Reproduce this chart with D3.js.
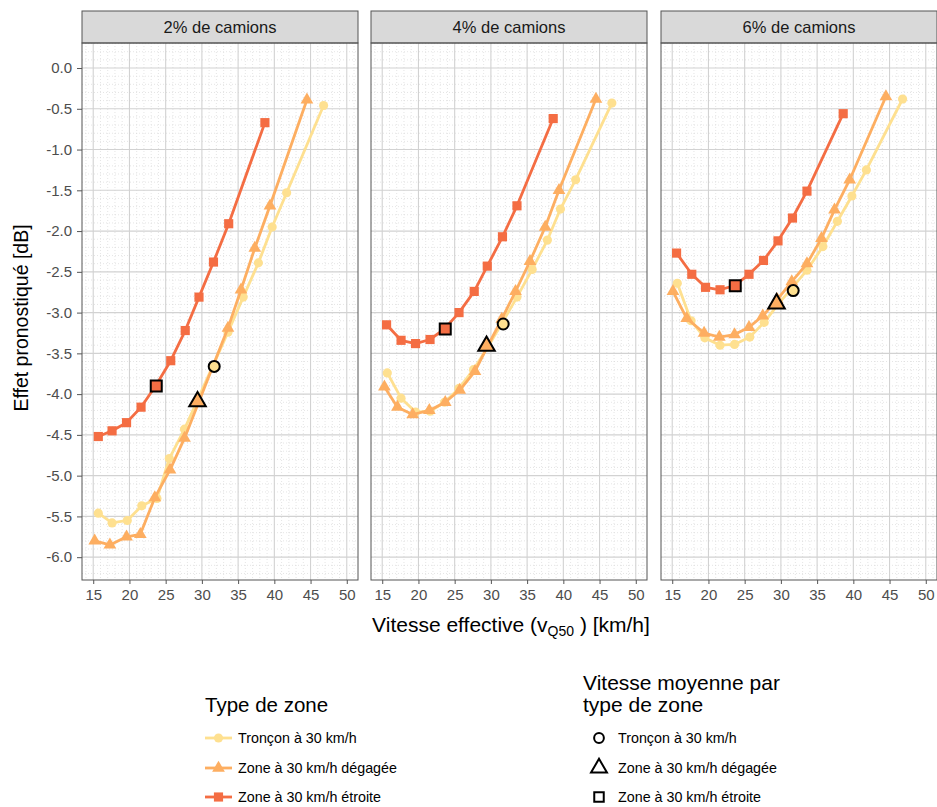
<!DOCTYPE html>
<html><head><meta charset="utf-8">
<script src="https://cdn.jsdelivr.net/npm/d3@7"></script>
<style>body{margin:0;background:#fff}svg{display:block;font-family:"Liberation Sans",Arial,sans-serif}</style>
</head><body><svg id="c" width="937" height="807"></svg>
<script>
const panelTitles = ["2% de camions","4% de camions","6% de camions"];
const zones = ["Tronçon à 30 km/h","Zone à 30 km/h dégagée","Zone à 30 km/h étroite"];
const colors = ["#FEE090","#FDAE61","#F46D43"];
const xTicks = [15,20,25,30,35,40,45,50];
const yTicks = [0,-0.5,-1,-1.5,-2,-2.5,-3,-3.5,-4,-4.5,-5,-5.5,-6];

// 2% de camions
const tron2X = [15.7,17.6,19.7,21.7,23.8,25.5,27.6,33.6,35.7,37.8,39.7,41.7,46.8];
const tron2Y = [-5.46,-5.58,-5.55,-5.37,-5.28,-4.79,-4.43,-3.24,-2.81,-2.39,-1.95,-1.53,-0.46];
const deg2X = [15.2,17.3,19.6,21.5,23.5,25.6,27.6,33.6,35.4,37.3,39.4,44.5];
const deg2Y = [-5.80,-5.85,-5.75,-5.72,-5.27,-4.93,-4.54,-3.19,-2.72,-2.21,-1.69,-0.39];
const etr2X = [15.7,17.6,19.6,21.6,23.6,25.7,27.7,29.6,31.6,33.7,38.7];
const etr2Y = [-4.52,-4.45,-4.35,-4.16,-3.90,-3.59,-3.22,-2.81,-2.38,-1.91,-0.67];
// 4% de camions
const tron4X = [15.7,17.6,19.6,21.6,23.6,25.6,27.6,29.6,31.6,33.6,35.7,37.8,39.6,41.7,46.7];
const tron4Y = [-3.74,-4.05,-4.22,-4.21,-4.10,-3.93,-3.70,-3.42,-3.12,-2.81,-2.47,-2.11,-1.73,-1.37,-0.43];
const deg4X = [15.3,17.1,19.2,21.5,23.7,25.7,27.8,29.5,31.5,33.4,35.4,37.5,39.4,44.5];
const deg4Y = [-3.91,-4.16,-4.25,-4.20,-4.10,-3.95,-3.72,-3.42,-3.08,-2.74,-2.37,-1.95,-1.50,-0.38];
const etr4X = [15.6,17.6,19.6,21.6,23.6,25.6,27.7,29.5,31.6,33.6,38.6];
const etr4Y = [-3.15,-3.34,-3.38,-3.33,-3.20,-3.00,-2.74,-2.43,-2.07,-1.69,-0.62];
// 6% de camions
const tron6X = [15.7,17.6,19.5,21.6,23.6,25.7,27.7,29.6,31.6,33.6,35.8,37.8,39.8,41.8,46.8];
const tron6Y = [-2.64,-3.10,-3.31,-3.40,-3.39,-3.30,-3.12,-2.90,-2.69,-2.48,-2.19,-1.88,-1.57,-1.25,-0.38];
const deg6X = [15.1,17.0,19.4,21.5,23.6,25.6,27.5,29.5,31.5,33.6,35.6,37.4,39.5,44.5];
const deg6Y = [-2.74,-3.07,-3.25,-3.30,-3.27,-3.18,-3.04,-2.84,-2.62,-2.40,-2.09,-1.74,-1.37,-0.35];
const etr6X = [15.6,17.7,19.6,21.6,23.6,25.6,27.6,29.6,31.6,33.6,38.6];
const etr6Y = [-2.27,-2.53,-2.69,-2.72,-2.67,-2.53,-2.36,-2.12,-1.84,-1.51,-0.56];
// vitesse moyenne par type de zone (tronçon, dégagée, étroite)
const avgX = [31.7,29.4,23.7];
const avg2Y = [-3.66,-4.09,-3.90];
const avg4Y = [-3.14,-3.41,-3.20];
const avg6Y = [-2.73,-2.89,-2.67];

const panelData = [
  {series:[[tron2X,tron2Y],[deg2X,deg2Y],[etr2X,etr2Y]], avg:avg2Y},
  {series:[[tron4X,tron4Y],[deg4X,deg4Y],[etr4X,etr4Y]], avg:avg4Y},
  {series:[[tron6X,tron6Y],[deg6X,deg6Y],[etr6X,etr6Y]], avg:avg6Y}
];

const svg = d3.select("#c");
const panelX0 = [82,371,661], panelW = 276, pTop = 43, pBottom = 580;
const stripTop = 11;
const y = d3.scaleLinear().domain([0.307,-6.28]).range([pTop,pBottom]);
const shapes = [d3.symbolCircle, d3.symbolTriangle, d3.symbolSquare];
const seriesSize = [66, 70, 84];
const avgSize = [95, 118, 121];
const FONT = "Liberation Sans, Arial, sans-serif";
const fmtY = v => d3.format(".1f")(v).replace("\u2212","-");

panelData.forEach((pd,i) => {
  const x0 = panelX0[i];
  const x = d3.scaleLinear().domain([13.45,51.55]).range([x0,x0+panelW]);
  const g = svg.append("g");
  g.append("rect").attr("x",x0).attr("y",pTop).attr("width",panelW).attr("height",pBottom-pTop).attr("fill","#fff");
  const minorX = d3.range(14,52,1).filter(v=>v%5!==0);
  const minorY = d3.range(3,-63,-1).map(v=>v/10).filter(v=>Math.abs(Math.round(v*10))%5!==0);
  g.selectAll(".mx").data(minorX).join("line").attr("x1",d=>x(d)).attr("x2",d=>x(d)).attr("y1",pTop).attr("y2",pBottom)
    .attr("stroke","#d4d4d4").attr("stroke-width",0.6).attr("stroke-dasharray","1,2");
  g.selectAll(".my").data(minorY).join("line").attr("y1",d=>y(d)).attr("y2",d=>y(d)).attr("x1",x0).attr("x2",x0+panelW)
    .attr("stroke","#d4d4d4").attr("stroke-width",0.6).attr("stroke-dasharray","1,2");
  g.selectAll(".gx").data(xTicks).join("line").attr("x1",d=>x(d)).attr("x2",d=>x(d)).attr("y1",pTop).attr("y2",pBottom)
    .attr("stroke","#d2d2d2").attr("stroke-width",1.1);
  g.selectAll(".gy").data(yTicks).join("line").attr("y1",d=>y(d)).attr("y2",d=>y(d)).attr("x1",x0).attr("x2",x0+panelW)
    .attr("stroke","#d2d2d2").attr("stroke-width",1.1);
  g.append("rect").attr("x",x0).attr("y",stripTop).attr("width",panelW).attr("height",pTop-stripTop)
    .attr("fill","#D9D9D9").attr("stroke","#555").attr("stroke-width",1);
  g.append("text").attr("x",x0+panelW/2).attr("y",(stripTop+pTop)/2+6).attr("text-anchor","middle")
    .attr("font-size",16.5).attr("fill","#1a1a1a").text(panelTitles[i]);
  const line = d3.line().x(d=>x(d[0])).y(d=>y(d[1]));
  pd.series.forEach((s,k)=>{
    const pts = s[0].map((v,j)=>[v,s[1][j]]);
    g.append("path").datum(pts).attr("d",line).attr("fill","none").attr("stroke",colors[k]).attr("stroke-width",2.8).attr("stroke-linejoin","round");
    g.selectAll(null).data(pts).join("path")
      .attr("transform",d=>`translate(${x(d[0])},${y(d[1])})`)
      .attr("d",d3.symbol().type(shapes[k]).size(seriesSize[k])).attr("fill",colors[k]);
  });
  avgX.forEach((vx,k)=>{
    g.append("path").attr("transform",`translate(${x(vx)},${y(pd.avg[k])})`)
      .attr("d",d3.symbol().type(shapes[k]).size(avgSize[k])).attr("fill",colors[k]).attr("stroke","#000").attr("stroke-width",2);
  });
  g.append("rect").attr("x",x0).attr("y",pTop).attr("width",panelW).attr("height",pBottom-pTop)
    .attr("fill","none").attr("stroke","#555").attr("stroke-width",1);
  const xa = g.append("g").attr("transform",`translate(0,${pBottom})`)
    .call(d3.axisBottom(x).tickValues(xTicks).tickSize(4).tickPadding(5).tickFormat(d3.format("d")));
  xa.select(".domain").remove();
  xa.selectAll("line").attr("stroke","#555");
  xa.selectAll("text").attr("font-size",15).attr("fill","#4D4D4D").attr("font-family",FONT);
  if(i===0){
    const ya = g.append("g").attr("transform",`translate(${x0},0)`)
      .call(d3.axisLeft(y).tickValues(yTicks).tickSize(5).tickPadding(5).tickFormat(fmtY));
    ya.select(".domain").remove();
    ya.selectAll("line").attr("stroke","#555");
    ya.selectAll("text").attr("font-size",15).attr("fill","#4D4D4D").attr("font-family",FONT);
  }
});

const xt = svg.append("text").attr("x",511).attr("y",632).attr("text-anchor","middle").attr("font-size",21).attr("fill","#000");
xt.append("tspan").text("Vitesse effective (v");
xt.append("tspan").attr("font-size",14).attr("dy",4).text("Q50");
xt.append("tspan").attr("dy",-4).text(" ) [km/h]");
svg.append("text").attr("transform",`translate(28,318) rotate(-90)`).attr("text-anchor","middle")
  .attr("font-size",19.5).attr("fill","#000").text("Effet pronostiqué [dB]");

const legY = [738,768,797];
svg.append("text").attr("x",205).attr("y",712).attr("font-size",20.5).attr("fill","#000").text("Type de zone");
zones.forEach((z,k)=>{
  svg.append("line").attr("x1",205).attr("x2",232).attr("y1",legY[k]).attr("y2",legY[k]).attr("stroke",colors[k]).attr("stroke-width",2.8);
  svg.append("path").attr("transform",`translate(218.5,${legY[k]})`).attr("d",d3.symbol().type(shapes[k]).size(seriesSize[k])).attr("fill",colors[k]);
  svg.append("text").attr("x",238).attr("y",legY[k]+5).attr("font-size",14.3).attr("fill","#000").text(z);
});
svg.append("text").attr("x",583).attr("y",690).attr("font-size",21).attr("fill","#000").text("Vitesse moyenne par");
svg.append("text").attr("x",583).attr("y",712).attr("font-size",21).attr("fill","#000").text("type de zone");
zones.forEach((z,k)=>{
  svg.append("path").attr("transform",`translate(599,${legY[k]})`).attr("d",d3.symbol().type(shapes[k]).size([75,110,90][k]))
    .attr("fill","none").attr("stroke","#000").attr("stroke-width",2);
  svg.append("text").attr("x",618).attr("y",legY[k]+5).attr("font-size",14.3).attr("fill","#000").text(z);
});
</script></body></html>
